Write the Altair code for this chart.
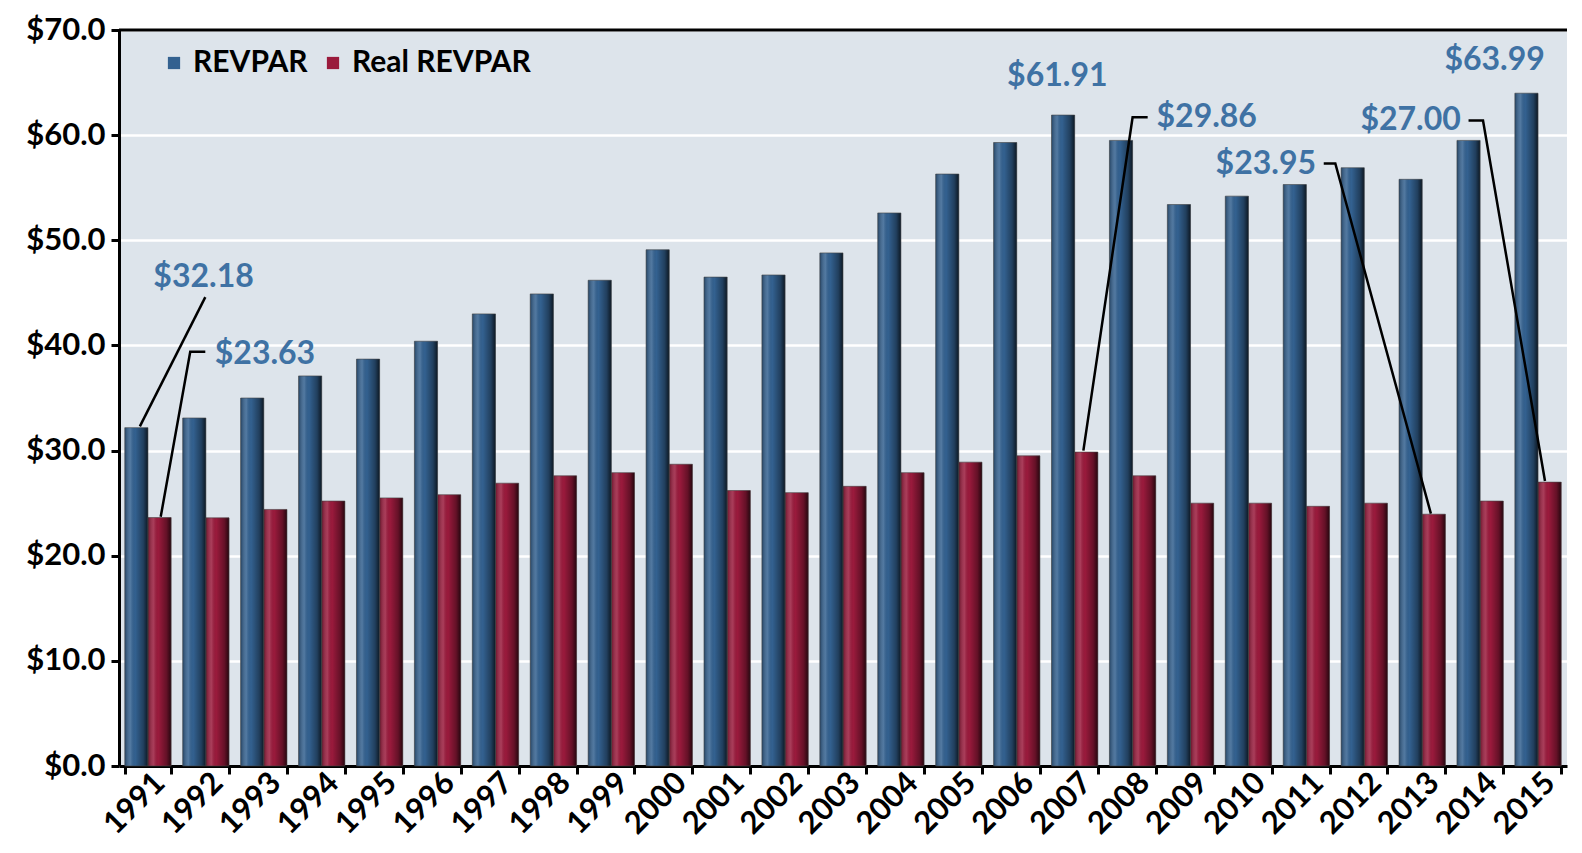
import altair as alt
import pandas as pd

# ---------------- data ----------------
years = [str(y) for y in range(1991, 2016)]
revpar = [32.18, 33.1, 35.0, 37.1, 38.7, 40.4, 43.0, 44.9, 46.2, 49.1,
          46.5, 46.7, 48.8, 52.6, 56.3, 59.3, 61.91, 59.5, 53.4, 54.2,
          55.3, 56.9, 55.8, 59.5, 63.99]
real_revpar = [23.63, 23.6, 24.4, 25.2, 25.5, 25.8, 26.9, 27.6, 27.9, 28.7,
               26.2, 26.0, 26.6, 27.9, 28.9, 29.5, 29.86, 27.6, 25.0, 25.0,
               24.7, 25.0, 23.95, 25.2, 27.00]
series_names = ["REVPAR", "Real REVPAR"]
series_colors = ["#336190", "#9a1a3c"]
y_ticks = [0, 10, 20, 30, 40, 50, 60, 70]

# annotations (x in category units, 0..25; y in dollars)
ann_text = ["$32.18", "$23.63", "$61.91", "$29.86", "$23.95", "$27.00", "$63.99"]
ann_x = [1.46, 2.52, 16.2, 18.78, 19.8, 22.3, 23.75]
ann_y = [46.5, 39.2, 65.6, 61.7, 57.3, 61.4, 67.1]

leader_id = [0, 0, 1, 1, 1, 3, 3, 3, 4, 4, 4, 5, 5, 5]
leader_order = [0, 1, 0, 1, 2, 0, 1, 2, 0, 1, 2, 0, 1, 2]
leader_x = [1.49, 0.36, 1.49, 1.23, 0.72, 17.76, 17.5, 16.65,
            20.8, 21.0, 22.65, 23.3, 23.55, 24.62]
leader_y = [44.6, 32.3, 39.4, 39.4, 23.7, 61.7, 61.7, 30.0,
            57.3, 57.3, 24.0, 61.4, 61.4, 27.1]

# ---------------- tables ----------------
df = pd.DataFrame({
    "year": years * 2,
    "series": [series_names[0]] * len(years) + [series_names[1]] * len(years),
    "value": revpar + real_revpar,
})
ann_df = pd.DataFrame({"label": ann_text, "x": ann_x, "value": ann_y})
lead_df = pd.DataFrame({"id": leader_id, "o": leader_order, "x": leader_x, "value": leader_y})
top_df = pd.DataFrame({"value": [y_ticks[-1]]})

FONT = "Lato"
W, H = 1448, 736

y_axis = alt.Axis(values=y_ticks, format="$.1f", title=None,
                  labelFontSize=31, labelFontWeight="bold", labelColor="black",
                  labelPadding=6,
                  domainColor="black", domainWidth=3,
                  tickColor="black", tickWidth=3, tickSize=8,
                  grid=True, gridColor="white", gridWidth=2.5)
y_scale = alt.Scale(domain=[0, 70], nice=False)
y_enc = alt.Y("value:Q", scale=y_scale, axis=y_axis, title=None)

base = alt.Chart(df).encode(
    x=alt.X("year:N", sort=years,
            scale=alt.Scale(paddingInner=0.2, paddingOuter=0.1),
            axis=alt.Axis(title=None, labelAngle=-45, labelAlign="right",
                          labelBaseline="middle", labelFontSize=31,
                          labelFontWeight="bold", labelColor="black",
                          labelPadding=4, labelOffset=12,
                          domainColor="black", domainWidth=3,
                          tickColor="black", tickWidth=3, tickSize=8,
                          tickBand="extent", grid=False)),
    xOffset=alt.XOffset("series:N", sort=series_names),
    y=y_enc,
)

bars = base.mark_bar().encode(
    color=alt.Color("series:N", sort=series_names,
                    scale=alt.Scale(domain=series_names, range=series_colors),
                    legend=alt.Legend(title=None, orient="none", legendX=40, legendY=18,
                                      direction="horizontal", symbolType="square",
                                      symbolSize=150, symbolOpacity=1,
                                      labelFontSize=30, labelFontWeight="bold",
                                      labelColor="black", labelLimit=500,
                                      symbolOffset=0, labelOffset=4))
)

shade_grad = alt.LinearGradient(
    gradient="linear", x1=0, x2=1, y1=0, y2=0,
    stops=[
        alt.GradientStop(color="rgba(0,0,0,0.30)", offset=0),
        alt.GradientStop(color="rgba(255,255,255,0.15)", offset=0.25),
        alt.GradientStop(color="rgba(0,0,0,0.0)", offset=0.45),
        alt.GradientStop(color="rgba(0,0,0,0.35)", offset=0.8),
        alt.GradientStop(color="rgba(0,0,0,0.75)", offset=1),
    ],
)
shade = base.mark_bar(fill=shade_grad, stroke="#444", strokeWidth=0.6)

top_rule = alt.Chart(top_df).mark_rule(color="black", strokeWidth=3).encode(y=y_enc)

bar_layer = alt.layer(bars, shade, top_rule)

xq = alt.X("x:Q", scale=alt.Scale(domain=[0, 25], nice=False, zero=False), axis=None)

leaders = alt.Chart(lead_df).mark_line(color="black", strokeWidth=2.5).encode(
    x=xq, y=y_enc, detail="id:N", order="o:Q")
texts = alt.Chart(ann_df).mark_text(font=FONT, fontSize=32, fontWeight="bold",
                                    color="#3f72a4", align="center",
                                    baseline="middle").encode(
    x=xq, y=y_enc, text="label:N")

ann_layer = alt.layer(leaders, texts)

chart = alt.layer(bar_layer, ann_layer).resolve_scale(x="independent").properties(
    width=W, height=H,
    padding={"left": 111, "top": 22, "right": 5, "bottom": 78},
    autosize=alt.AutoSizeParams(type="none"),
).configure(font=FONT).configure_view(fill="#dde4eb", stroke=None)

chart.save("out.html", embed_options={"renderer": "svg", "actions": False})
